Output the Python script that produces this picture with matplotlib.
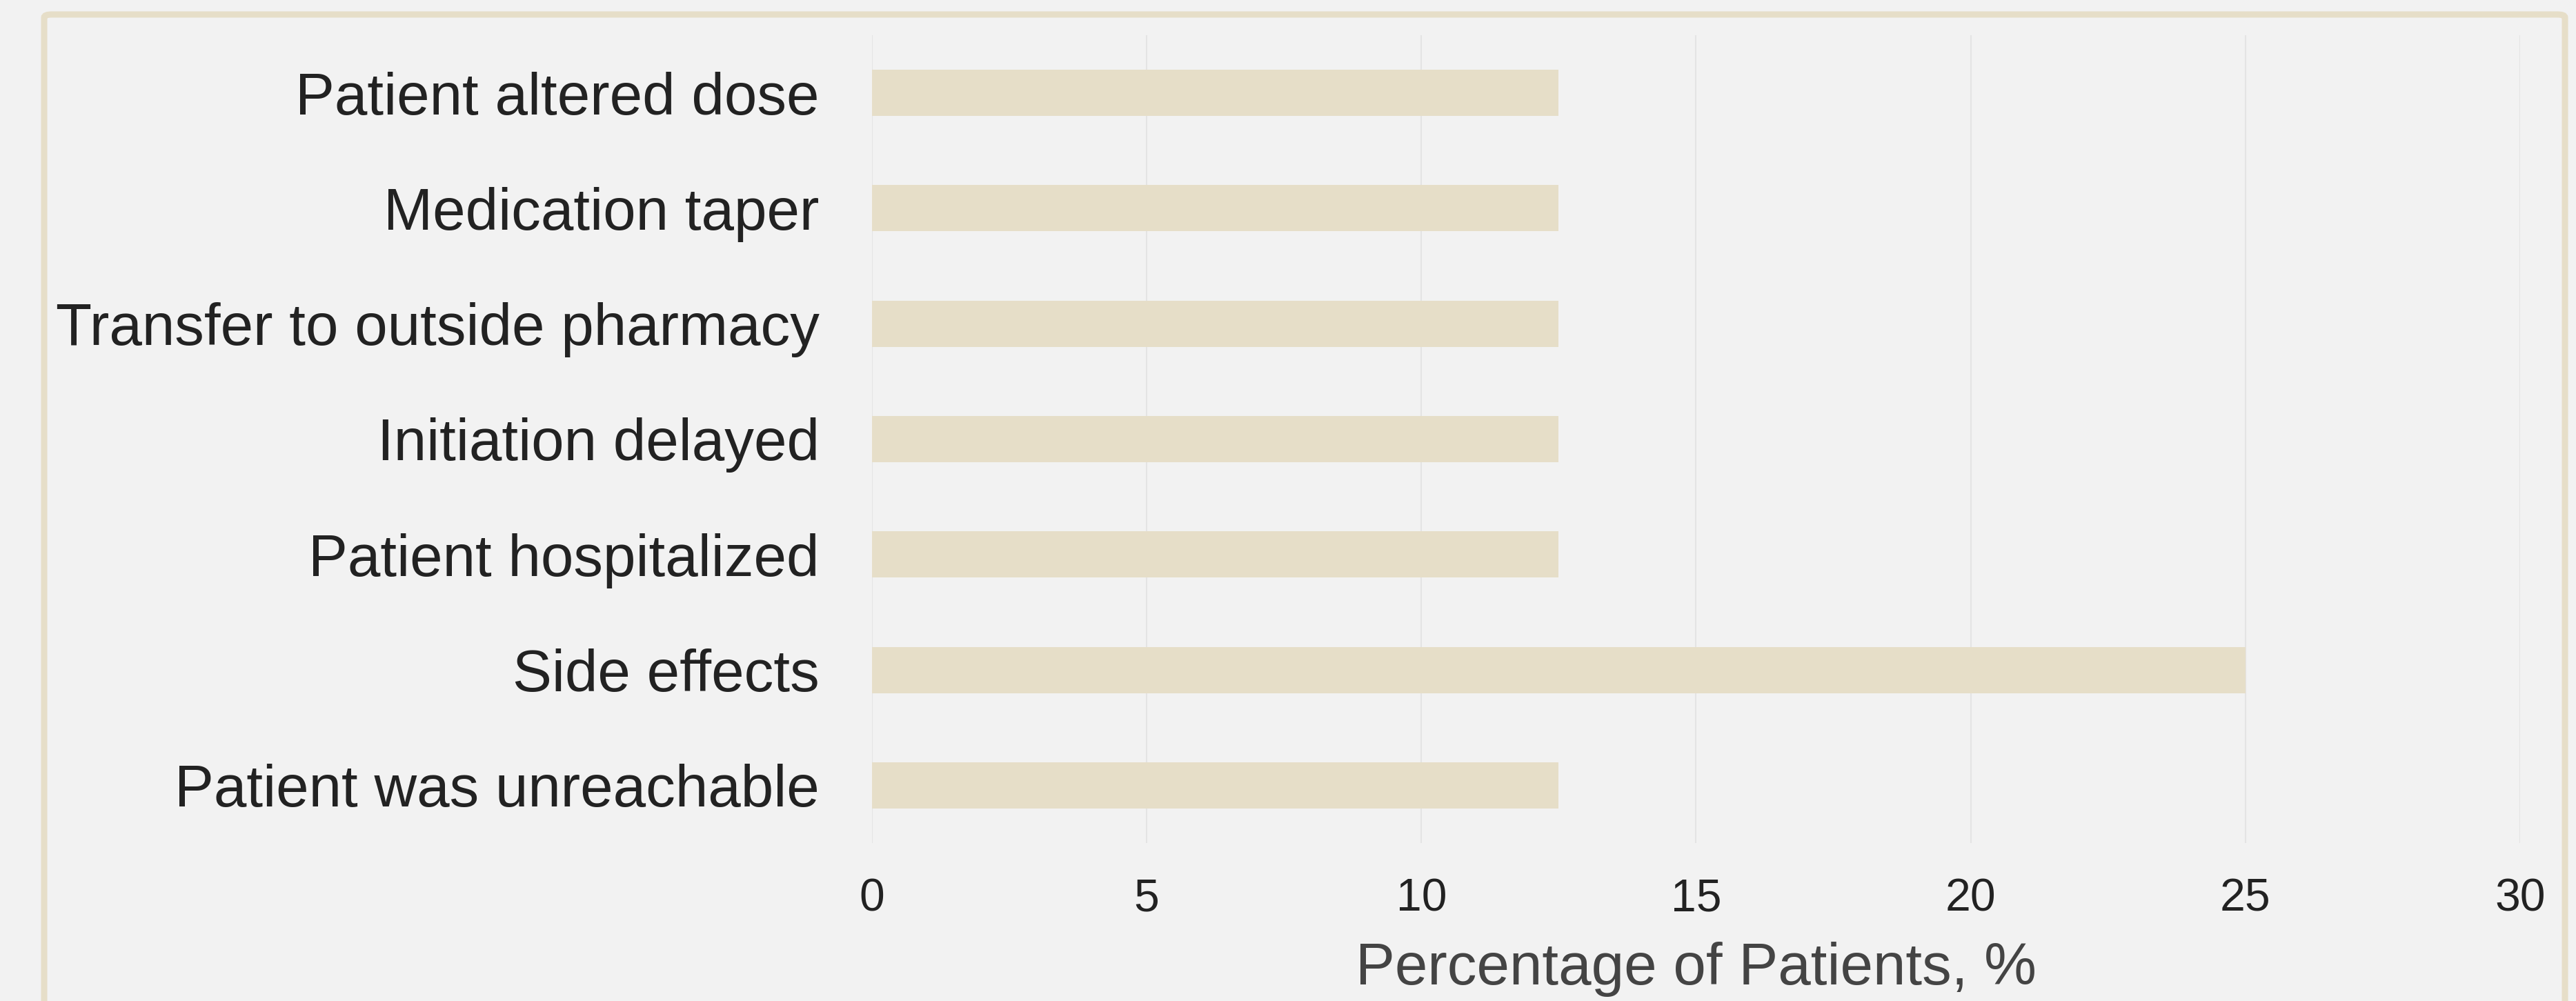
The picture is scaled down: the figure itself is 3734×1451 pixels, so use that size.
import matplotlib.pyplot as plt
from matplotlib.patches import FancyBboxPatch

# data
reasons = ['Patient altered dose', 'Medication taper', 'Transfer to outside pharmacy',
           'Initiation delayed', 'Patient hospitalized', 'Side effects',
           'Patient was unreachable']
percent = [12.5, 12.5, 12.5, 12.5, 12.5, 25, 12.5]
xticks = [0, 5, 10, 15, 20, 25, 30]

bg = '#f2f2f2'
bar_color = '#e6dec8'

plt.rcParams['font.family'] = ['Liberation Sans', 'DejaVu Sans']

fig = plt.figure(figsize=(37.34, 14.51), dpi=100, facecolor=bg)
ax = fig.add_axes([0.3385, 0.1578, 0.6398, 0.8071])
ax.set_facecolor(bg)

# frame around the whole chart
frame = FancyBboxPatch((64 / 3734, -0.05), (3718 - 64) / 3734, 1.05 - 21 / 1451,
                       boxstyle='round,pad=0,rounding_size=0.003',
                       transform=fig.transFigure, facecolor='none',
                       edgecolor=bar_color, linewidth=6.5, zorder=0)
fig.patches.append(frame)

y = list(range(len(reasons)))[::-1]
ax.barh(y, percent, height=0.4, color=bar_color, zorder=2)

ax.set_xlim(0, 30)
ax.set_ylim(-0.5, len(reasons) - 0.5)
ax.set_xticks(xticks)
ax.set_yticks(y)
ax.set_yticklabels(reasons)
ax.grid(axis='x', color='#e4e4e4', linewidth=1.5, zorder=0)
ax.set_axisbelow(True)
for s in ax.spines.values():
    s.set_visible(False)

ax.tick_params(axis='y', length=0, pad=55, labelsize=61.5, labelcolor='#222222')
ax.tick_params(axis='x', length=0, pad=36, labelsize=47.5, labelcolor='#222222')
ax.set_xlabel('Percentage of Patients, %', fontsize=61.5, color='#444444', labelpad=22)

fig.savefig('out.png', dpi=100, facecolor=bg)
